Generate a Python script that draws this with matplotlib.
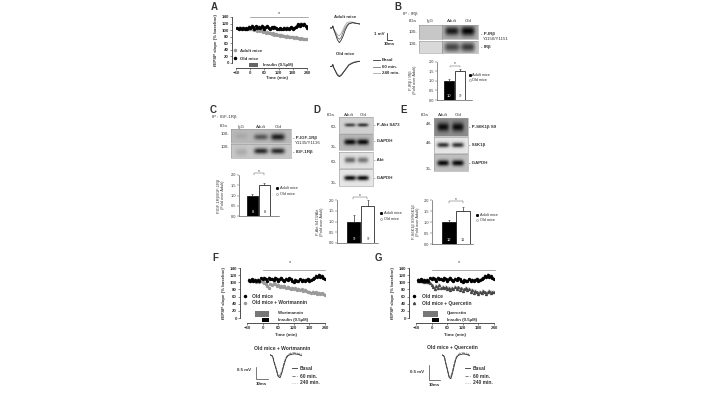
import numpy as np
import matplotlib
matplotlib.use('Agg')
import matplotlib.pyplot as plt

plt.rcParams['font.family'] = ['Liberation Sans', 'DejaVu Sans']
plt.rcParams['text.color'] = '#333333'
plt.rcParams['axes.edgecolor'] = '#333333'
plt.rcParams['axes.linewidth'] = 0.4
plt.rcParams['xtick.color'] = '#333333'
plt.rcParams['ytick.color'] = '#333333'

# time course, minutes
time_min = [-54 + 6 * i for i in range(50)]
old_mice = [106, 104, 108, 105, 107, 103, 106, 104, 111, 108, 113, 109, 105, 112, 108, 110, 106, 113, 109, 104,
            110, 112, 107, 103, 109, 106, 111, 108, 104, 102, 106, 103, 105, 108, 104, 107, 103, 106, 109, 105,
            107, 110, 113, 118, 114, 120, 116, 119, 112, 108]
adult_mice = [106, 105, 107, 104, 106, 105, 103, 106, 104, 105, 102, 104, 100, 103, 98, 100, 96, 99, 94, 97,
              92, 94, 90, 92, 88, 90, 86, 88, 85, 86, 83, 85, 82, 83, 80, 82, 79, 80, 78, 79,
              76, 78, 75, 77, 74, 75, 73, 74, 72, 72]
wortmannin = [105, 104, 106, 103, 105, 102, 104, 101, 103, 100, 98, 95, 90, 85, 96, 92, 98, 94, 90, 93,
              88, 91, 87, 89, 85, 88, 84, 82, 85, 80, 83, 79, 81, 78, 80, 76, 78, 75, 72, 74,
              71, 73, 69, 72, 68, 70, 67, 69, 66, 65]
quercetin = [105, 106, 103, 105, 102, 104, 100, 102, 97, 92, 86, 82, 90, 85, 92, 84, 88, 83, 87, 80,
             85, 78, 84, 80, 88, 82, 86, 78, 83, 76, 80, 84, 78, 82, 74, 79, 70, 76, 72, 68,
             74, 70, 76, 72, 68, 72, 75, 70, 73, 74]
time_ticks = [-60, 0, 60, 120, 180, 240]
slope_ticks = [0, 20, 40, 60, 80, 100, 120, 140]

# bar panels
bar_ticks = [0.0, 0.5, 1.0, 1.5, 2.0]
bars_b = [1.0, 1.5]
errs_b = [0.08, 0.12]
bars_c = [1.0, 1.5]
errs_c = [0.05, 0.12]
bars_d = [1.0, 1.7]
errs_d = [0.3, 0.3]
bars_e = [1.0, 1.5]
errs_e = [0.08, 0.2]

# epsp traces, arbitrary mV
trace_t = [0, 2, 3, 4, 6, 8, 10, 12, 14, 16, 18, 20, 24, 28, 32]
adult_basal = [0, 0, 1.5, -1, -5, -9, -11, -9, -6, -2, 1, 3, 4, 3.5, 3]
adult_60 = [0, 0, 1.5, -1, -4, -7, -8.5, -7, -3, 0, 2, 3.5, 4, 3.5, 3]
adult_240 = [0, 0, 1.5, -1, -3, -5, -6, -4, -1, 2, 4, 4.5, 4.5, 3.5, 3]
old_basal = [0, 0, 1.5, -1, -4, -7, -8, -7, -5, -3, -1, 1, 2.5, 3.5, 4]
old_60 = [0, 0, 1.5, -1, -4, -6.5, -7.5, -6.5, -4.5, -3, -1, 1, 3, 3.5, 4]
old_240 = [0, 0, 1.5, -1, -3.5, -6, -7, -6.5, -5, -2.5, -0.5, 1.5, 3, 4, 4]
wort_basal = [3, 2, 0, -5, -12, -20, -22, -16, -8, -1, 2, 3, 4, 3.5, 2]
wort_60 = [3, 2, 0, -4, -11, -19, -20, -14, -6, 0, 3, 4, 5, 4, 3]
wort_240 = [3, 2, 0, -4, -10, -17, -19, -13, -5, 0, 3, 5, 5.5, 5, 4]

W, H = 720, 405
fig = plt.figure(figsize=(7.2, 4.05), dpi=100, facecolor='white')
PX = 0.72


def px_axes(x0, y0, x1, y1):
    return fig.add_axes([x0 / W, 1 - y1 / H, (x1 - x0) / W, (y1 - y0) / H], facecolor='none')


ov = px_axes(0, 0, W, H)
ov.axis('off')


def txt(x, y, s, size=3.2, ha='left', **kw):
    ov.text(x, y, s, fontsize=size, ha=ha, va='center', **kw)


def blot(x0, y0, x1, y1, bg, bands):
    # bands are (x px, y px, half width, half height, darkness)
    xs = np.linspace(x0, x1, int(x1 - x0) * 2)
    ys = np.linspace(y0, y1, int(y1 - y0) * 2)
    xx, yy = np.meshgrid(xs, ys)
    img = np.full(xx.shape, float(bg))
    for bx, by, bw, bh, dark in bands:
        img -= dark * np.exp(-((xx - bx) / bw) ** 4 - ((yy - by) / bh) ** 2)
    ov.imshow(np.clip(img, 0, 1), extent=(x0, x1, y1, y0), cmap='gray', vmin=0, vmax=1,
              aspect='auto', interpolation='bilinear', zorder=1)
    ov.plot([x0, x1, x1, x0, x0], [y0, y0, y1, y1, y0], color='#999999', lw=0.4, zorder=2)


def time_panel(rect, spine_px, xaxis_px, series, styles):
    x0, y0, x1, y1 = rect
    ax = px_axes(x0, y0, x1, y1)
    for vals, st in zip(series, styles):
        ax.errorbar(time_min, vals, yerr=5, fmt=st[0], ms=1.4, color=st[1], ecolor=st[2],
                    elinewidth=0.35, capsize=0, zorder=st[3])
    ax.set_xlim(-60, 240)
    ax.set_ylim(0, 140)
    ax.set_xticks(time_ticks)
    ax.set_yticks(slope_ticks)
    ax.tick_params(labelsize=3.2, width=0.4, length=1.5, pad=0.8)
    ax.spines['top'].set_visible(False)
    ax.spines['right'].set_visible(False)
    ax.spines['left'].set_position(('outward', (x0 - spine_px) * PX))
    ax.spines['bottom'].set_position(('outward', (xaxis_px - y1) * PX))
    ax.spines['left'].set_linewidth(0.6)
    ax.spines['bottom'].set_linewidth(0.6)
    for lab in ax.get_xticklabels() + ax.get_yticklabels():
        lab.set_fontweight('bold')
    return ax


def bar_panel(rect, center0, step, width, vals, errs, ns):
    x0, y0, x1, y1 = rect
    ax = px_axes(x0, y0, x1, y1)
    ax.bar([0, 1], vals, width=width / step, color=['black', 'white'], edgecolor='black', linewidth=0.5,
           yerr=[[0, 0], errs], error_kw=dict(ecolor='#333333', elinewidth=0.5, capsize=0.6, capthick=0.4))
    ax.set_xlim((x0 - center0) / step, (x1 - center0) / step)
    ax.set_ylim(0, 2.0)
    ax.set_xticks([])
    ax.set_yticks(bar_ticks)
    ax.set_yticklabels([f'{t:.1f}' for t in bar_ticks])
    ax.tick_params(labelsize=2.8, width=0.3, length=1.2, pad=0.6)
    ax.spines['top'].set_visible(False)
    ax.spines['right'].set_visible(False)
    ax.text(0, 0.2, ns[0], color='white', fontsize=3, ha='center', va='center')
    ax.text(1, 0.2, ns[1], color='#333333', fontsize=3, ha='center', va='center')
    return ax


def trace_panel(rect, ylim, traces):
    ax = px_axes(*rect)
    ax.axis('off')
    for vals, c, ls in traces:
        ax.plot(trace_t, vals, color=c, lw=0.6, ls=ls)
    ax.set_xlim(0, 32)
    ax.set_ylim(*ylim)


BK = ('o', 'black', '#777777', 3)
GY = ('o', '#999999', '#bbbbbb', 2)
DG = ('^', '#444444', '#888888', 2)

# panel A
time_panel((236, 17, 307, 63), 232, 68, [adult_mice, old_mice], [GY, BK])
txt(277, 78, 'Time (min)', ha='center', fontweight='bold')
txt(216, 40, 'fEPSP slope (% baseline)', rotation=90, ha='center', fontweight='bold')
ov.plot([250, 308], [17, 17], color='#888888', lw=0.5)
txt(279, 14, '*', size=4, ha='center')
ov.fill_between([249, 258], 63, 67, color='#666666', lw=0)
txt(263, 65, 'Insulin (0.5µM)', fontweight='bold')
ov.plot([235], [50], 'o', ms=1.5, color='#999999')
ov.plot([235], [58], 'o', ms=1.5, color='black')
txt(240, 50.5, 'Adult mice', fontweight='bold')
txt(240, 58.5, 'Old mice', fontweight='bold')
txt(345, 17, 'Adult mice', ha='center', fontweight='bold')
txt(345, 54, 'Old mice', ha='center', fontweight='bold')
trace_panel((330, 20, 360, 44), (-12, 6), [(adult_240, '#aaaaaa', '-'), (adult_60, '#777777', '-'), (adult_basal, '#333333', '-')])
trace_panel((330, 60, 360, 78), (-9, 5), [(old_240, '#aaaaaa', '-'), (old_60, '#777777', '-'), (old_basal, '#333333', '-')])
ov.plot([387, 387, 392], [33, 40, 40], color='#333333', lw=0.6)
txt(385, 34, '1 mV', ha='right', fontweight='bold')
txt(389, 44, '10ms', ha='center', fontweight='bold')
for yy, lab, c in zip([60, 67, 73], ['Basal', '60 min.', '240 min.'], ['#333333', '#777777', '#aaaaaa']):
    ov.plot([373, 380], [yy, yy], color=c, lw=0.6)
    txt(382, yy, lab, fontweight='bold')

# panel B
blot(419, 25, 442, 39, 0.78, [])
blot(442, 25, 478, 39, 0.68, [(452, 31, 7, 4.5, 0.58), (468, 31, 7, 5, 0.66)])
blot(419, 41, 442, 53, 0.85, [])
blot(442, 41, 478, 53, 0.78, [(452, 47, 8, 5, 0.5), (468, 47, 7, 5, 0.55)])
txt(403, 14, 'IP : IRβ')
txt(409, 21, 'kDa')
for xx, lab in zip([430, 452, 468], ['IgG', 'Adult', 'Old']):
    txt(xx, 21, lab, ha='center')
txt(417, 32, '100-', ha='right')
txt(417, 44, '100-', ha='right')
txt(481, 34, '- P-IRβ', fontweight='bold')
txt(483, 39, 'Y1150/Y1151')
txt(481, 47, '- IRβ', fontweight='bold')
bar_panel((437, 62, 472, 100), 449, 11, 10, bars_b, errs_b, ['10', '9'])
ov.plot([450, 450, 460, 460], [67, 66, 66, 67], color='#444444', lw=0.3)
txt(455, 64, '*', size=3.5, ha='center')
txt(413, 80, 'P-IRβ / IRβ\n(Fold over Adult)', size=2.8, rotation=90, ha='center', linespacing=1.0)
ov.plot([470], [75], 's', ms=1.1, color='black')
ov.plot([470], [80], 's', ms=1.1, mfc='white', mec='black', mew=0.2)
txt(472, 75, 'Adult mice', size=2.8)
txt(472, 80, 'Old mice', size=2.8)

# panel C
blot(231, 129, 291, 143, 0.72, [(241, 136, 6, 3, 0.06), (261, 137, 7, 3, 0.38), (278, 137, 7, 3.5, 0.6)])
blot(231, 144, 291, 158, 0.78, [(241, 152, 6, 4, 0.1), (261, 151, 7, 3, 0.62), (278, 151, 7, 3, 0.62)])
txt(212, 117, 'IP : IGF-1Rβ')
txt(220, 126, 'kDa')
for xx, lab in zip([241, 261, 278], ['IgG', 'Adult', 'Old']):
    txt(xx, 127, lab, ha='center')
txt(229, 134, '100-', ha='right')
txt(229, 147, '100-', ha='right')
txt(293, 138, '- P-IGF-1Rβ', fontweight='bold')
txt(295, 143, 'Y1135/Y1136')
txt(293, 152, '- IGF-1Rβ', fontweight='bold')
bar_panel((239, 175, 279, 216), 252.5, 12, 11, bars_c, errs_c, ['8', '8'])
ov.plot([254, 254, 264, 264], [175, 173, 173, 175], color='#444444', lw=0.3)
txt(259, 171.5, '*', size=3.5, ha='center')
txt(221, 195, 'P-IGF-1Rβ/IGF-1Rβ\n(Fold over Adult)', size=2.8, rotation=90, ha='center', linespacing=1.0)
ov.plot([277], [188], 's', ms=1.1, color='black')
ov.plot([277], [194], 's', ms=1.1, mfc='white', mec='black', mew=0.2)
txt(280, 188, 'Adult mice', size=2.8)
txt(280, 194, 'Old mice', size=2.8)

# panel D
blot(339, 117, 373, 133, 0.82, [(350, 125, 5.5, 1.8, 0.55), (363, 125, 5.5, 1.8, 0.62)])
blot(339, 134, 373, 150, 0.72, [(350, 142, 6, 3, 0.68), (363, 142, 6, 3, 0.68)])
blot(339, 152, 373, 168, 0.88, [(350, 160, 5.5, 3, 0.48), (363, 160, 5.5, 3, 0.42)])
blot(339, 169, 373, 186, 0.9, [(350, 178, 6, 2.5, 0.85), (363, 178, 6, 2.5, 0.85)])
txt(331, 115, 'kDa', ha='center')
txt(349, 115, 'Adult', ha='center')
txt(363, 115, 'Old', ha='center')
for yy, lab in zip([127, 147, 162, 183], ['60-', '35-', '60-', '35-']):
    txt(337, yy, lab, ha='right')
for yy, lab in zip([125, 141, 160, 178], ['- P-Akt S473', '- GAPDH', '- Akt', '- GAPDH']):
    txt(374, yy, lab, fontweight='bold')
bar_panel((337, 200, 378, 243), 353.5, 14, 13, bars_d, errs_d, ['9', '9'])
ov.plot([353, 353, 367, 367], [199, 197, 197, 199], color='#444444', lw=0.3)
txt(360, 195.5, '*', size=3.5, ha='center')
txt(320, 222, 'P-Akt S473/Akt\n(Fold over Adult)', size=2.8, rotation=90, ha='center', linespacing=1.0)
ov.plot([381], [213], 's', ms=1.1, color='black')
ov.plot([381], [219], 's', ms=1.1, mfc='white', mec='black', mew=0.2)
txt(384, 213, 'Adult mice', size=2.8)
txt(384, 219, 'Old mice', size=2.8)

# panel E
blot(434, 118, 468, 136, 0.55, [(443, 127, 6, 4.5, 0.5), (458, 127, 6, 4.5, 0.5)])
blot(434, 137, 468, 153, 0.9, [(443, 145, 6, 2.5, 0.7), (458, 145, 6, 2.5, 0.7)])
blot(434, 154, 468, 171, 0.75, [(443, 163, 6, 3, 0.72), (458, 163, 6, 3, 0.72)])
txt(425, 115, 'kDa', ha='center')
txt(443, 115, 'Adult', ha='center')
txt(458, 115, 'Old', ha='center')
for yy, lab in zip([124, 143, 169], ['48-', '48-', '35-']):
    txt(432, yy, lab, ha='right')
for yy, lab in zip([127, 145, 163], ['- P-S6K1β S9', '- S6K1β', '- GAPDH']):
    txt(469, yy, lab, fontweight='bold')
bar_panel((432, 200, 473, 244), 449, 14, 14, bars_e, errs_e, ['12', '11'])
ov.plot([449, 449, 463, 463], [203, 201, 201, 203], color='#444444', lw=0.3)
txt(456, 199.5, '*', size=3.5, ha='center')
txt(416, 222, 'P-S6K1β S9/S6K1β\n(Fold over Adult)', size=2.8, rotation=90, ha='center', linespacing=1.0)
ov.plot([477], [215], 's', ms=1.1, color='black')
ov.plot([477], [220], 's', ms=1.1, mfc='white', mec='black', mew=0.2)
txt(480, 215, 'Adult mice', size=2.8)
txt(480, 220, 'Old mice', size=2.8)

# panel F
time_panel((247, 268, 325, 318), 240, 323, [wortmannin, old_mice], [GY, BK])
txt(286, 335, 'Time (min)', ha='center', fontweight='bold')
txt(224, 293, 'fEPSP slope (% baseline)', rotation=90, ha='center', fontweight='bold')
ov.plot([263, 325], [270, 270], color='#888888', lw=0.5)
txt(290, 263, '*', size=4, ha='center')
ov.fill_between([255, 269], 311, 317, color='#777777', lw=0)
ov.fill_between([262, 269], 318, 322, color='black', lw=0)
txt(278, 313, 'Wortmannin', fontweight='bold')
txt(278, 320, 'Insulin (0.5µM)', fontweight='bold')
ov.plot([245], [296], 'o', ms=1.5, color='black')
ov.plot([245], [303], 'o', ms=1.5, color='#999999')
txt(252, 296, 'Old mice', size=3.5, fontweight='bold')
txt(252, 303, 'Old mice + Wortmannin', size=3.5, fontweight='bold')
txt(282, 348, 'Old mice + Wortmannin', size=3.6, ha='center', fontweight='bold')
trace_panel((270, 352, 302, 378), (-22, 6), [(wort_240, '#aaaaaa', ':'), (wort_60, '#666666', '--'), (wort_basal, '#333333', '-')])
ov.plot([256, 256, 268], [367, 379, 379], color='#444444', lw=0.5)
txt(244, 370, '0.5 mV', ha='center', fontweight='bold')
txt(261, 384, '10ms', ha='center', fontweight='bold')
for yy, lab, c, ls in zip([368, 376, 383], ['Basal', '60 min.', '240 min.'], ['#333333', '#666666', '#aaaaaa'], ['-', '--', ':']):
    ov.plot([292, 297], [yy, yy], color=c, lw=0.6, ls=ls)
    txt(300, yy, lab, size=3.5, fontweight='bold')

# panel G
time_panel((416, 268, 494, 318), 409, 323, [quercetin, old_mice], [DG, BK])
txt(455, 335, 'Time (min)', ha='center', fontweight='bold')
txt(393, 293, 'fEPSP slope (% baseline)', rotation=90, ha='center', fontweight='bold')
ov.plot([432, 495], [270, 270], color='#888888', lw=0.5)
txt(459, 263, '*', size=4, ha='center')
ov.fill_between([423, 438], 311, 317, color='#777777', lw=0)
ov.fill_between([432, 439], 318, 322, color='black', lw=0)
txt(447, 313, 'Quercetin', fontweight='bold')
txt(447, 320, 'Insulin (0.5µM)', fontweight='bold')
ov.plot([414], [296], 'o', ms=1.5, color='black')
ov.plot([414], [303], '^', ms=1.5, color='#444444')
txt(422, 296, 'Old mice', size=3.5, fontweight='bold')
txt(422, 303, 'Old mice + Quercetin', size=3.5, fontweight='bold')
txt(452, 348, 'Old mice + Quercetin', size=3.6, ha='center', fontweight='bold')
trace_panel((442, 352, 470, 379), (-22, 6), [(wort_240, '#aaaaaa', ':'), (wort_60, '#666666', '--'), (wort_basal, '#333333', '-')])
ov.plot([429, 429, 440], [365, 380, 380], color='#444444', lw=0.5)
txt(417, 372, '0.5 mV', ha='center', fontweight='bold')
txt(434, 385, '10ms', ha='center', fontweight='bold')
for yy, lab, c, ls in zip([368, 376, 383], ['Basal', '60 min.', '240 min.'], ['#333333', '#666666', '#aaaaaa'], ['-', '--', ':']):
    ov.plot([465, 470], [yy, yy], color=c, lw=0.6, ls=ls)
    txt(473, yy, lab, size=3.5, fontweight='bold')

# panel letters
for xx, yy, lab in [(214, 7, 'A'), (398, 7, 'B'), (213, 110, 'C'), (317, 110, 'D'), (404, 110, 'E'), (215, 258, 'F'), (378, 258, 'G')]:
    txt(xx, yy, lab, size=7, ha='center', fontweight='bold')

ov.set_xlim(0, W)
ov.set_ylim(H, 0)
fig.savefig('out.png', dpi=100)
